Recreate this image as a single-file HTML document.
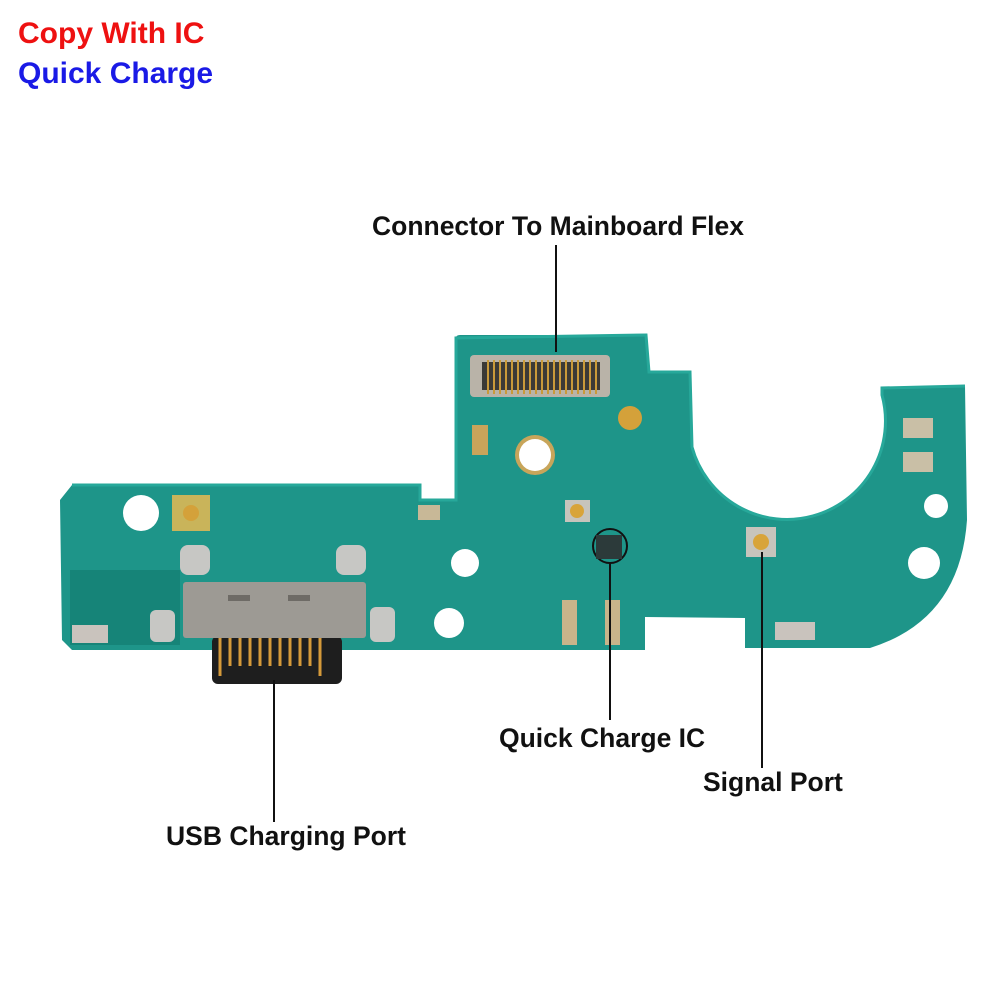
<!DOCTYPE html>
<html><head><style>
html,body{margin:0;padding:0;background:#fff;}
body{width:1000px;height:1000px;position:relative;overflow:hidden;font-family:"Liberation Sans",sans-serif;}
.t{position:absolute;font-weight:bold;white-space:nowrap;}
</style></head><body>
<div class="t" style="left:18px;top:17px;font-size:30px;color:#ee1111;">Copy With IC</div>
<div class="t" style="left:18px;top:57px;font-size:30px;color:#1a1ae6;">Quick Charge</div>
<svg width="1000" height="1000" style="position:absolute;left:0;top:0">
<path d="M72,485 L420,485 L420,500 L456,500 L456,338 Q456,335 460,335 L646,335 L649,372 L690,372 L692,447 A95,95 0 0 0 882,395 L882,388 L965,386 L967,520 Q960,620 870,648 L745,648 L745,618 L645,617 L645,650 L72,650 L62,640 L60,500 Z" fill="#1e9589"/>
<path d="M72,485 L420,485 L420,500 L456,500 L456,338 L646,335 L649,372 L690,372 L692,447 A95,95 0 0 0 882,395 L882,388 L965,386" fill="none" stroke="#27a89a" stroke-width="3"/>
<rect x="70" y="570" width="110" height="75" fill="#168478"/>
<rect x="470" y="355" width="140" height="42" rx="4" fill="#b9b3a8"/>
<rect x="482" y="362" width="118" height="28" fill="#3b3a36"/>
<g stroke="#c99a3a" stroke-width="2">
<path d="M488,360v34M494,360v34M500,360v34M506,360v34M512,360v34M518,360v34M524,360v34M530,360v34M536,360v34M542,360v34M548,360v34M554,360v34M560,360v34M566,360v34M572,360v34M578,360v34M584,360v34M590,360v34M596,360v34"/>
</g>
<circle cx="535" cy="455" r="20" fill="#c8a55a"/><circle cx="535" cy="455" r="16" fill="#fff"/>
<circle cx="141" cy="513" r="18" fill="#fff"/>
<rect x="172" y="495" width="38" height="36" fill="#c9b45a"/><circle cx="191" cy="513" r="8" fill="#d4a13a"/>
<circle cx="630" cy="418" r="12" fill="#d4a13a"/>
<circle cx="465" cy="563" r="14" fill="#fff"/>
<circle cx="449" cy="623" r="15" fill="#fff"/>
<circle cx="924" cy="563" r="16" fill="#fff"/>
<circle cx="936" cy="506" r="12" fill="#fff"/>
<rect x="180" y="545" width="30" height="30" rx="8" fill="#c7c7c4"/>
<rect x="336" y="545" width="30" height="30" rx="8" fill="#c7c7c4"/>
<rect x="150" y="610" width="25" height="32" rx="6" fill="#c7c7c4"/>
<rect x="370" y="607" width="25" height="35" rx="6" fill="#c7c7c4"/>
<rect x="72" y="625" width="36" height="18" fill="#c9c3bd"/>
<rect x="212" y="636" width="130" height="48" rx="6" fill="#1e1e1e"/>
<g stroke="#d59a3a" stroke-width="3"><path d="M220,636v40M230,636v30M240,636v30M250,636v30M260,636v30M270,636v30M280,636v30M290,636v30M300,636v30M310,636v30M320,636v40"/></g>
<rect x="183" y="582" width="183" height="56" rx="3" fill="#9d9a94"/>
<rect x="228" y="595" width="22" height="6" fill="#6e6b66"/><rect x="288" y="595" width="22" height="6" fill="#6e6b66"/>
<rect x="418" y="505" width="22" height="15" fill="#c8b897"/>
<rect x="472" y="425" width="16" height="30" fill="#c9a45a"/>
<rect x="565" y="500" width="25" height="22" fill="#c7c4bc"/><circle cx="577" cy="511" r="7" fill="#d8a43a"/>
<rect x="746" y="527" width="30" height="30" fill="#c7c4bc"/><circle cx="761" cy="542" r="8" fill="#d8a43a"/>
<circle cx="610" cy="546" r="17" fill="none" stroke="#111" stroke-width="2"/>
<rect x="596" y="535" width="26" height="24" fill="#2c3a3a"/>
<rect x="562" y="600" width="15" height="45" fill="#c9b48a"/><rect x="605" y="600" width="15" height="45" fill="#c9b48a"/>
<rect x="903" y="418" width="30" height="20" fill="#c9bfa6"/><rect x="903" y="452" width="30" height="20" fill="#c9bfa6"/>
<rect x="775" y="622" width="40" height="18" fill="#c9c3bd"/>
<line x1="556" y1="245" x2="556" y2="352" stroke="#111" stroke-width="2"/>
<line x1="610" y1="563" x2="610" y2="720" stroke="#111" stroke-width="2"/>
<line x1="762" y1="552" x2="762" y2="768" stroke="#111" stroke-width="2"/>
<line x1="274" y1="680" x2="274" y2="822" stroke="#111" stroke-width="2"/>
</svg>
<div class="t" style="left:372px;top:211px;font-size:26.5px;color:#111;">Connector To Mainboard Flex</div>
<div class="t" style="left:499px;top:723px;font-size:26.5px;color:#111;">Quick Charge IC</div>
<div class="t" style="left:703px;top:767px;font-size:26.5px;color:#111;">Signal Port</div>
<div class="t" style="left:166px;top:821px;font-size:26.5px;color:#111;">USB Charging Port</div>
</body></html>
